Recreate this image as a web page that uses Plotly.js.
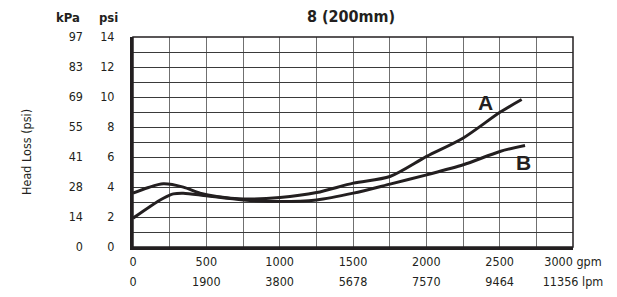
<!DOCTYPE html>
<html>
<head>
<meta charset="utf-8">
<script src="https://cdn.plot.ly/plotly-3.0.1.min.js"></script>
<style>html,body{margin:0;padding:0;background:#fff;}#chart{width:617px;height:297px;}</style>
</head>
<body>
<div id="chart"></div>
<script>
// ---- data ----
const flowA = [0, 100, 207, 343, 457, 571, 752, 1002, 1252, 1502, 1752, 2002, 2252, 2502, 2650];
const lossA = [3.59, 3.95, 4.21, 3.99, 3.59, 3.36, 3.20, 3.30, 3.63, 4.26, 4.70, 6.04, 7.27, 8.98, 9.83];
const flowB = [0, 114, 207, 275, 343, 502, 752, 1002, 1252, 1502, 1752, 2002, 2252, 2502, 2673];
const lossB = [1.92, 2.69, 3.25, 3.54, 3.59, 3.41, 3.14, 3.03, 3.14, 3.59, 4.19, 4.81, 5.48, 6.37, 6.77];

const gpmTicks = [0, 250, 500, 750, 1000, 1250, 1500, 1750, 2000, 2250, 2500, 2750, 3000];
const gpmLabels = ["0", "", "500", "", "1000", "", "1500", "", "2000", "", "2500", "", "3000 gpm"];
const lpmLabels = ["0", "", "1900", "", "3800", "", "5678", "", "7570", "", "9464", "", "11356 lpm"];

const psiTicks = [0, 1, 2, 3, 4, 5, 6, 7, 8, 9, 10, 11, 12, 13, 14];
const psiLabels = ["0", "", "2", "", "4", "", "6", "", "8", "", "10", "", "12", "", "14"];
const kpaLabels = ["0", "", "14", "", "28", "", "41", "", "55", "", "69", "", "83", "", "97"];

const seriesNames = ["A", "B"];
const labelPos = [[2400, 9.65], [2660, 5.65]];

const chartTitle = "8 (200mm)";
const yTitle = "Head Loss (psi)";
const unitHeaders = ["kPa", "psi"];

// ---- styles ----
const ink = "#231f20";
const cond = "DejaVu Sans Condensed, sans-serif";
const tickFont = {family: cond, size: 12.5, color: ink};

const traces = [
  {x: flowA, y: lossA, name: seriesNames[0], type: "scatter", mode: "lines",
   line: {color: ink, width: 3, shape: "spline", smoothing: 0.8}, xaxis: "x", yaxis: "y", hoverinfo: "skip"},
  {x: flowB, y: lossB, name: seriesNames[1], type: "scatter", mode: "lines",
   line: {color: ink, width: 3, shape: "spline", smoothing: 0.8}, xaxis: "x", yaxis: "y", hoverinfo: "skip"},
  // empty carriers so the secondary (lpm / kPa) scales are drawn
  {x: [], y: [], type: "scatter", mode: "lines", xaxis: "x2", yaxis: "y", hoverinfo: "skip", showlegend: false},
  {x: [], y: [], type: "scatter", mode: "lines", xaxis: "x", yaxis: "y2", hoverinfo: "skip", showlegend: false}
];

const layout = {
  width: 617, height: 297,
  margin: {l: 133, r: 44, t: 37, b: 50, pad: 0},
  paper_bgcolor: "#fff", plot_bgcolor: "#fff",
  showlegend: false,
  title: {text: "<b>" + chartTitle + "</b>", font: {family: cond, size: 16, color: ink},
          x: (351 - 133) / 440, xref: "paper", xanchor: "center",
          y: 1 - 16 / 297, yref: "container", yanchor: "middle"},
  xaxis: {
    range: [0, 3000], tickvals: gpmTicks, ticktext: gpmLabels,
    showgrid: true, gridcolor: "#707070", gridwidth: 1, zeroline: false,
    showline: true, linecolor: ink, linewidth: 3,
    ticks: "", tickfont: tickFont, ticklabelstandoff: 1, fixedrange: true
  },
  xaxis2: {
    overlaying: "x", side: "bottom", anchor: "y",
    range: [0, 3000], tickvals: gpmTicks, ticktext: lpmLabels,
    showgrid: false, zeroline: false, showline: false,
    ticks: "", tickfont: tickFont, ticklabelstandoff: 25, fixedrange: true
  },
  yaxis: {
    range: [0, 14], tickvals: psiTicks, ticktext: psiLabels,
    showgrid: true, gridcolor: "#3a3a3a", gridwidth: 1, zeroline: false,
    showline: true, linecolor: ink, linewidth: 3,
    ticks: "", tickfont: tickFont, ticklabelstandoff: 13, fixedrange: true
  },
  yaxis2: {
    overlaying: "y", side: "left", anchor: "x",
    range: [0, 14], tickvals: psiTicks, ticktext: kpaLabels,
    showgrid: false, zeroline: false, showline: false,
    ticks: "", tickfont: tickFont, ticklabelstandoff: 49, fixedrange: true
  },
  shapes: [
    {type: "rect", xref: "paper", yref: "paper", x0: 0, x1: 1, y0: 0, y1: 1,
     line: {color: ink, width: 1.5}, layer: "above"}
  ],
  annotations: [
    {text: yTitle, xref: "paper", yref: "paper", x: (26 - 133) / 440, y: (247 - 152) / 210,
     xanchor: "center", yanchor: "middle", textangle: -90, showarrow: false,
     font: {family: cond, size: 12.5, color: ink}},
    {text: "<b>" + unitHeaders[0] + "</b>", xref: "paper", yref: "paper", x: (68 - 133) / 440, y: (247 - 17.5) / 210,
     xanchor: "center", yanchor: "middle", showarrow: false, font: {family: cond, size: 13, color: ink}},
    {text: "<b>" + unitHeaders[1] + "</b>", xref: "paper", yref: "paper", x: (108 - 133) / 440, y: (247 - 17.5) / 210,
     xanchor: "center", yanchor: "middle", showarrow: false, font: {family: cond, size: 13, color: ink}},
    {text: "<b>" + seriesNames[0] + "</b>", xref: "x", yref: "y", x: labelPos[0][0], y: labelPos[0][1],
     xanchor: "center", yanchor: "middle", showarrow: false,
     font: {family: "Liberation Sans, Arial, sans-serif", size: 21, color: ink}},
    {text: "<b>" + seriesNames[1] + "</b>", xref: "x", yref: "y", x: labelPos[1][0], y: labelPos[1][1],
     xanchor: "center", yanchor: "middle", showarrow: false,
     font: {family: "Liberation Sans, Arial, sans-serif", size: 21, color: ink}}
  ]
};

Plotly.newPlot("chart", traces, layout, {staticPlot: true, displayModeBar: false});
</script>
</body>
</html>
